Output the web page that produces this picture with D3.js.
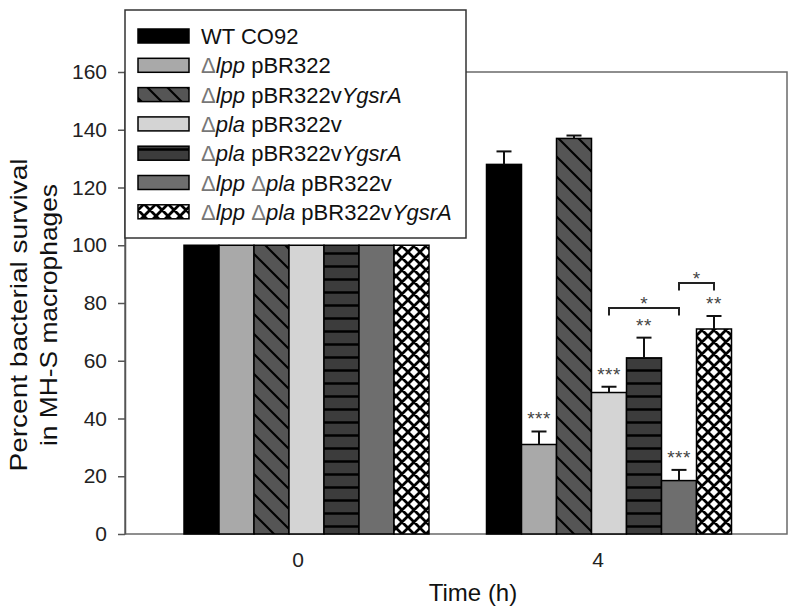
<!DOCTYPE html>
<html>
<head>
<meta charset="utf-8">
<script src="https://cdn.jsdelivr.net/npm/d3@7"></script>
<style>
  html, body { margin: 0; padding: 0; background: #fff; }
  svg { display: block; font-family: "Liberation Sans", Arial, sans-serif; }
</style>
</head>
<body>
<svg id="chart" width="800" height="614"></svg>
<script>
// ---------------- data ----------------
const timepoints = ["0", "4"];
const strainLabels = [
  "WT CO92",
  "Δ<i>lpp</i> pBR322",
  "Δ<i>lpp</i> pBR322v<i>YgsrA</i>",
  "Δ<i>pla</i> pBR322v",
  "Δ<i>pla</i> pBR322v<i>YgsrA</i>",
  "Δ<i>lpp</i> Δ<i>pla</i> pBR322v",
  "Δ<i>lpp</i> Δ<i>pla</i> pBR322v<i>YgsrA</i>"
];
const survivalT0 = [100, 100, 100, 100, 100, 100, 100];
const survivalT4 = [128, 31, 137, 49, 61, 18.5, 71];
const errorT0 = [0, 0, 0, 0, 0, 0, 0];
const errorT4 = [4.5, 4.5, 1, 2, 7, 3.7, 4.5];
const starsT4 = ["", "***", "", "***", "**", "***", "**"];
const bracketFrom = [3, 5];
const bracketTo = [5, 6];
const bracketLevel = [78.3, 86.9];
const bracketLabel = ["*", "*"];
const yTicks = [0, 20, 40, 60, 80, 100, 120, 140, 160];
const yTitle = ["Percent  bacterial survival", "in MH-S macrophages"];
const xTitle = "Time (h)";

const survival = [survivalT0, survivalT4];
const errors = [errorT0, errorT4];

// ---------------- layout ----------------
const svg = d3.select("#chart");
const plotL = 125, plotR = 787, plotT = 72, plotB = 534;
const y = d3.scaleLinear().domain([0, 160]).range([plotB, plotT]);
const xLabel = d3.scalePoint().domain(timepoints).range([298, 598]);
const xGroup = d3.scalePoint().domain(timepoints).range([306.5, 609]);
const groupWidth = 245;
const xInner = d3.scaleBand().domain(d3.range(strainLabels.length)).range([-groupWidth / 2, groupWidth / 2]);

// ---------------- patterns ----------------
const defs = svg.append("defs");
const fills = ["#000000", "#a9a9a9", "url(#diag)", "#d4d4d4", "url(#horiz)", "#6e6e6e", "url(#cross)"];

const pd = defs.append("pattern").attr("id", "diag").attr("patternUnits", "userSpaceOnUse")
  .attr("width", 20).attr("height", 20);
pd.append("rect").attr("width", 20).attr("height", 20).attr("fill", "#555");
pd.append("path").attr("d", "M-5,-5 L25,25 M-5,15 L5,25 M15,-5 L25,5")
  .attr("stroke", "#000").attr("stroke-width", 2.2);

const ph = defs.append("pattern").attr("id", "horiz").attr("patternUnits", "userSpaceOnUse")
  .attr("width", 13).attr("height", 13);
ph.append("rect").attr("width", 13).attr("height", 13).attr("fill", "#3c3c3c");
ph.append("path").attr("d", "M0,6.5 L13,6.5").attr("stroke", "#000").attr("stroke-width", 2.5);

const pc = defs.append("pattern").attr("id", "cross").attr("patternUnits", "userSpaceOnUse")
  .attr("width", 12).attr("height", 12);
pc.append("rect").attr("width", 12).attr("height", 12).attr("fill", "#fff");
pc.append("path").attr("d", "M-3,-3 L15,15 M-3,15 L15,-3 M-3,9 L3,15 M9,-3 L15,3 M-3,3 L3,-3 M9,15 L15,9")
  .attr("stroke", "#000").attr("stroke-width", 2.8);

// ---------------- frame ----------------
svg.append("rect").attr("x", plotL).attr("y", plotT).attr("width", plotR - plotL).attr("height", plotB - plotT)
  .attr("fill", "none").attr("stroke", "#6a6a6a").attr("stroke-width", 1.5);

// ---------------- y axis ----------------
const yAxis = svg.append("g").attr("transform", `translate(${plotL},0)`)
  .call(d3.axisLeft(y).tickValues(yTicks).tickSize(7).tickPadding(11).tickSizeOuter(0));
yAxis.select(".domain").attr("stroke", "#555").attr("stroke-width", 1.5);
yAxis.selectAll(".tick line").attr("stroke", "#555").attr("stroke-width", 1.5);
yAxis.selectAll(".tick text").attr("font-size", 21).attr("fill", "#222")
  .attr("font-family", "Liberation Sans, Arial, sans-serif");

// ---------------- x axis labels ----------------
svg.append("g").selectAll("text").data(timepoints).join("text")
  .attr("x", d => xLabel(d)).attr("y", 567).attr("text-anchor", "middle")
  .attr("font-size", 21).attr("fill", "#222").text(d => d);
svg.append("text").attr("x", 473).attr("y", 601).attr("text-anchor", "middle")
  .attr("font-size", 24).attr("fill", "#111").text(xTitle);

// y title
const yt = svg.append("text").attr("transform", "translate(0,315) rotate(-90)")
  .attr("text-anchor", "middle").attr("font-size", 24).attr("fill", "#111");
yt.append("tspan").attr("x", 0).attr("y", 27).attr("textLength", 313).attr("lengthAdjust", "spacingAndGlyphs").text(yTitle[0]);
yt.append("tspan").attr("x", 0).attr("y", 57).attr("textLength", 262).attr("lengthAdjust", "spacingAndGlyphs").text(yTitle[1]);

// ---------------- bars ----------------
const barData = [];
timepoints.forEach((t, ti) => {
  strainLabels.forEach((s, si) => {
    barData.push({ t, si, v: survival[ti][si], e: errors[ti][si], stars: ti === 1 ? starsT4[si] : "" });
  });
});
const barX = d => xGroup(d.t) + xInner(d.si);
const bw = xInner.bandwidth();

svg.append("g").selectAll("rect").data(barData).join("rect")
  .attr("x", barX).attr("y", d => y(d.v)).attr("width", bw).attr("height", d => y(0) - y(d.v))
  .attr("fill", d => fills[d.si]).attr("stroke", "#000").attr("stroke-width", 1.5);

// error bars (upper only)
const eb = svg.append("g").attr("stroke", "#111").attr("stroke-width", 2).attr("fill", "none");
barData.filter(d => d.e > 0).forEach(d => {
  const cx = barX(d) + bw / 2;
  eb.append("line").attr("x1", cx).attr("x2", cx).attr("y1", y(d.v)).attr("y2", y(d.v + d.e));
  eb.append("line").attr("x1", cx - 7.5).attr("x2", cx + 7.5).attr("y1", y(d.v + d.e)).attr("y2", y(d.v + d.e));
});

// significance stars
svg.append("g").selectAll("text").data(barData.filter(d => d.stars)).join("text")
  .attr("x", d => barX(d) + bw / 2).attr("y", d => y(d.v + d.e) - 6)
  .attr("text-anchor", "middle").attr("font-size", 19).attr("letter-spacing", 0.5).attr("fill", "#444")
  .text(d => d.stars);

// brackets
const br = svg.append("g");
bracketFrom.forEach((f, i) => {
  const x1 = xGroup("4") + xInner(f) + bw / 2;
  const x2 = xGroup("4") + xInner(bracketTo[i]) + bw / 2;
  const yy = y(bracketLevel[i]);
  br.append("path").attr("d", `M${x1},${yy + 7.5} L${x1},${yy} L${x2},${yy} L${x2},${yy + 7.5}`)
    .attr("fill", "none").attr("stroke", "#222").attr("stroke-width", 2);
  br.append("text").attr("x", (x1 + x2) / 2).attr("y", yy + 2).attr("text-anchor", "middle")
    .attr("font-size", 19).attr("fill", "#444").text(bracketLabel[i]);
});

// ---------------- legend ----------------
const lg = svg.append("g");
lg.append("rect").attr("x", 125).attr("y", 10).attr("width", 341).attr("height", 228)
  .attr("fill", "#fff").attr("stroke", "#333").attr("stroke-width", 1.5);
const rowH = 29.3;
strainLabels.forEach((lab, i) => {
  const cy = 36 + i * rowH;
  lg.append("rect").attr("x", 138).attr("y", cy - 7).attr("width", 51).attr("height", 14)
    .attr("fill", fills[i]).attr("stroke", "#000").attr("stroke-width", 1.5);
  const t = lg.append("text").attr("x", 201).attr("y", cy + 8).attr("font-size", 22).attr("fill", "#111");
  lab.split(/(<i>.*?<\/i>)/).filter(s => s.length).forEach(seg => {
    if (seg.startsWith("<i>")) {
      t.append("tspan").attr("font-style", "italic").text(seg.replace(/<\/?i>/g, ""));
    } else {
      seg.split(/(Δ)/).filter(s => s.length).forEach(p => {
        const ts = t.append("tspan").text(p);
        if (p === "Δ") ts.attr("fill", "#777");
      });
    }
  });
});
</script>
</body>
</html>
